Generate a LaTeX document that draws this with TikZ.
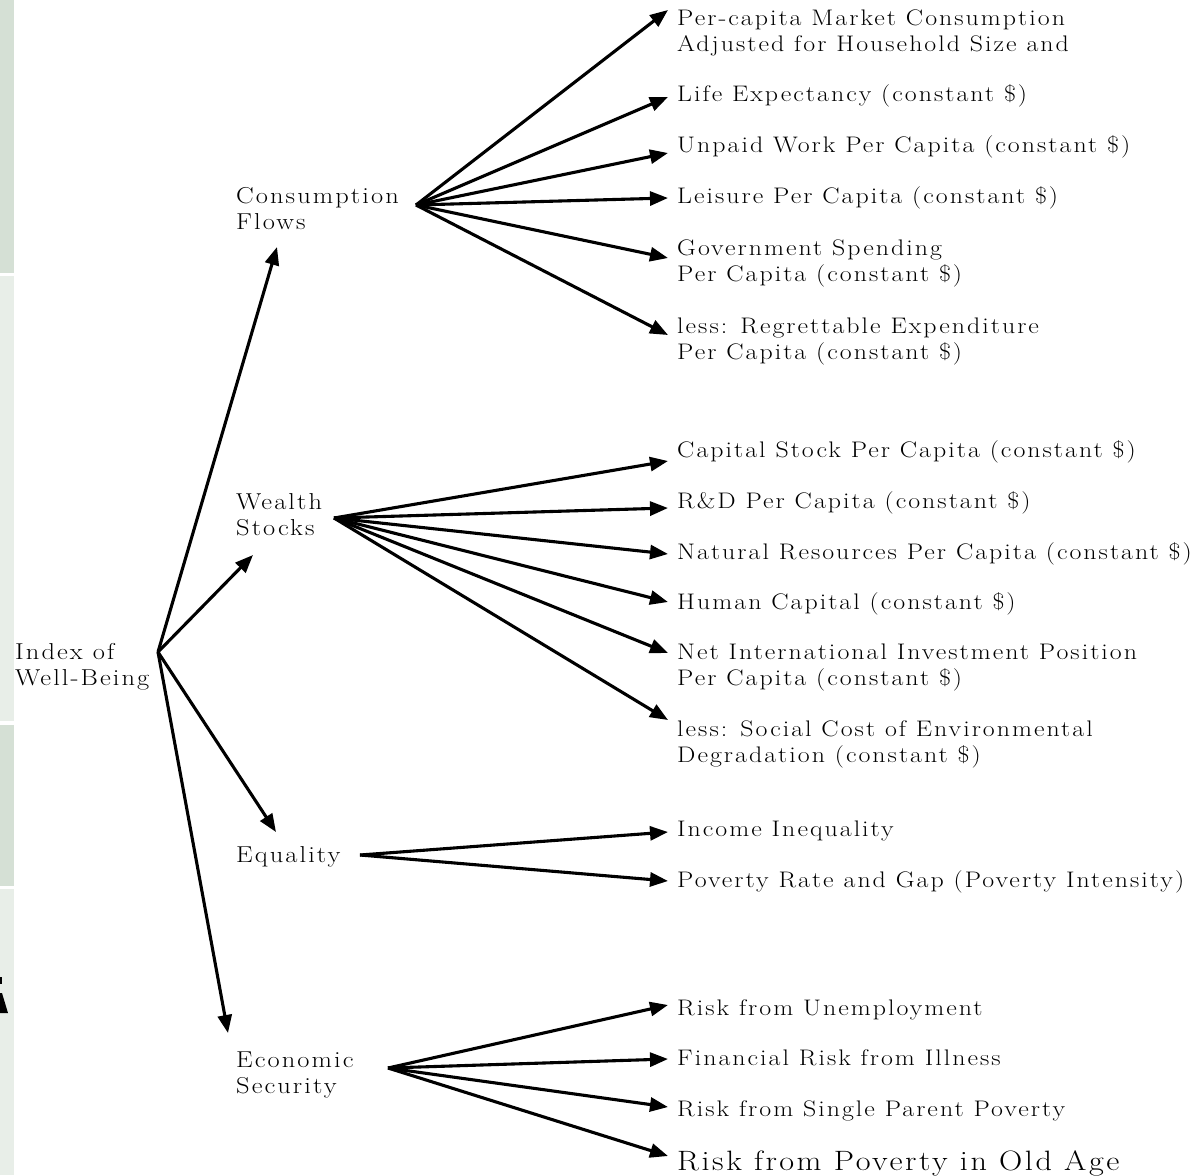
\documentclass[tikz,border=0pt]{standalone}
\usepackage{fontspec}
\usetikzlibrary{arrows.meta}
\newfontfamily\lblfont{Latin Modern Roman}[FakeStretch=1.15,LetterSpace=9]
\definecolor{stripdark}{RGB}{213,224,213}
\definecolor{striplight}{RGB}{232,238,232}
\newcommand\mlines[1]{\begin{tabular}[t]{@{}l@{}}#1\end{tabular}}
\begin{document}
\begin{tikzpicture}[x=1pt,y=-1pt,
  leaf/.style={anchor=base west, inner sep=0pt, font=\lblfont\fontsize{22.5}{26}\selectfont},
  bigleaf/.style={anchor=base west, inner sep=0pt, font=\lblfont\fontsize{28}{30}\selectfont},
  mid/.style={anchor=base west, inner sep=0pt, font=\lblfont\fontsize{23}{26}\selectfont},
  arr/.style={line width=3.1pt, -{Triangle[length=18pt,width=14pt]}}]
\useasboundingbox (0,0) rectangle (1196,1175);
\fill[white] (0,0) rectangle (1196,1175);
% left strip
\fill[stripdark] (0,0) rectangle (14,273);
\fill[striplight] (0,276) rectangle (14,721);
\fill[stripdark] (0,725) rectangle (14,886);
\fill[striplight] (0,889) rectangle (14,1175);
\fill[black] (0,977) -- (2,977) -- (2,984) -- (0,984) -- cycle;
\fill[black] (0,993) -- (2,993) -- (8,1013) -- (0,1013) -- cycle;
% root and level 2
\node[mid] (root) at (15,659) {\mlines{Index of\\Well-Being}};
\node[mid] (cf) at (236,203) {\mlines{Consumption\\Flows}};
\node[mid] (ws) at (236,509) {\mlines{Wealth\\Stocks}};
\node[mid] (eq) at (236,862) {Equality};
\node[mid] (es) at (236,1067) {\mlines{Economic\\Security}};
% leaves
\node[leaf] (l1) at (677,25) {\mlines{Per-capita Market Consumption\\Adjusted for Household Size and}};
\node[leaf] (l2) at (677,101) {Life Expectancy (constant \$)};
\node[leaf] (l3) at (677,152) {Unpaid Work Per Capita (constant \$)};
\node[leaf] (l4) at (677,203) {Leisure Per Capita (constant \$)};
\node[leaf] (l5) at (677,255) {\mlines{Government Spending\\Per Capita (constant \$)}};
\node[leaf] (l6) at (677,333) {\mlines{less: Regrettable Expenditure\\Per Capita (constant \$)}};
\node[leaf] (l7) at (677,457) {Capital Stock Per Capita (constant \$)};
\node[leaf] (l8) at (677,508) {R\&D Per Capita (constant \$)};
\node[leaf] (l9) at (677,559) {Natural Resources Per Capita (constant \$)};
\node[leaf] (l10) at (677,609) {Human Capital (constant \$)};
\node[leaf] (l11) at (677,659) {\mlines{Net International Investment Position\\Per Capita (constant \$)}};
\node[leaf] (l12) at (677,736) {\mlines{less: Social Cost of Environmental\\Degradation (constant \$)}};
\node[leaf] (l13) at (677,836) {Income Inequality};
\node[leaf] (l14) at (677,887) {Poverty Rate and Gap (Poverty Intensity)};
\node[leaf] (l15) at (677,1015) {Risk from Unemployment};
\node[leaf] (l16) at (677,1065) {Financial Risk from Illness};
\node[leaf] (l17) at (677,1116) {Risk from Single Parent Poverty};
\node[bigleaf] (l18) at (677,1170) {Risk from Poverty in Old Age};
% hubs
\coordinate (hr) at (158,652);
\coordinate (hcf) at (416,205);
\coordinate (hws) at (334,518);
\coordinate (heq) at (360,855);
\coordinate (hes) at (388,1068);
% tips
\coordinate (tcf) at (277,247);
\coordinate (tws) at (253,555);
\coordinate (teq) at (276,832);
\coordinate (tes) at (228,1033);
\coordinate (t1) at (668,10);
\coordinate (t2) at (668,97);
\coordinate (t3) at (668,153);
\coordinate (t4) at (668,198);
\coordinate (t5) at (668,258);
\coordinate (t6) at (668,335);
\coordinate (t7) at (668,461);
\coordinate (t8) at (668,508);
\coordinate (t9) at (668,554);
\coordinate (t10) at (668,602);
\coordinate (t11) at (668,653);
\coordinate (t12) at (668,720);
\coordinate (t13) at (668,832);
\coordinate (t14) at (668,881);
\coordinate (t15) at (668,1005);
\coordinate (t16) at (668,1059);
\coordinate (t17) at (668,1107);
\coordinate (t18) at (668,1156);
% connectors
\foreach \t in {tcf,tws,teq,tes} \draw[arr] (hr) -- (\t);
\foreach \t in {t1,t2,t3,t4,t5,t6} \draw[arr] (hcf) -- (\t);
\foreach \t in {t7,t8,t9,t10,t11,t12} \draw[arr] (hws) -- (\t);
\foreach \t in {t13,t14} \draw[arr] (heq) -- (\t);
\foreach \t in {t15,t16,t17,t18} \draw[arr] (hes) -- (\t);
\end{tikzpicture}
\end{document}
